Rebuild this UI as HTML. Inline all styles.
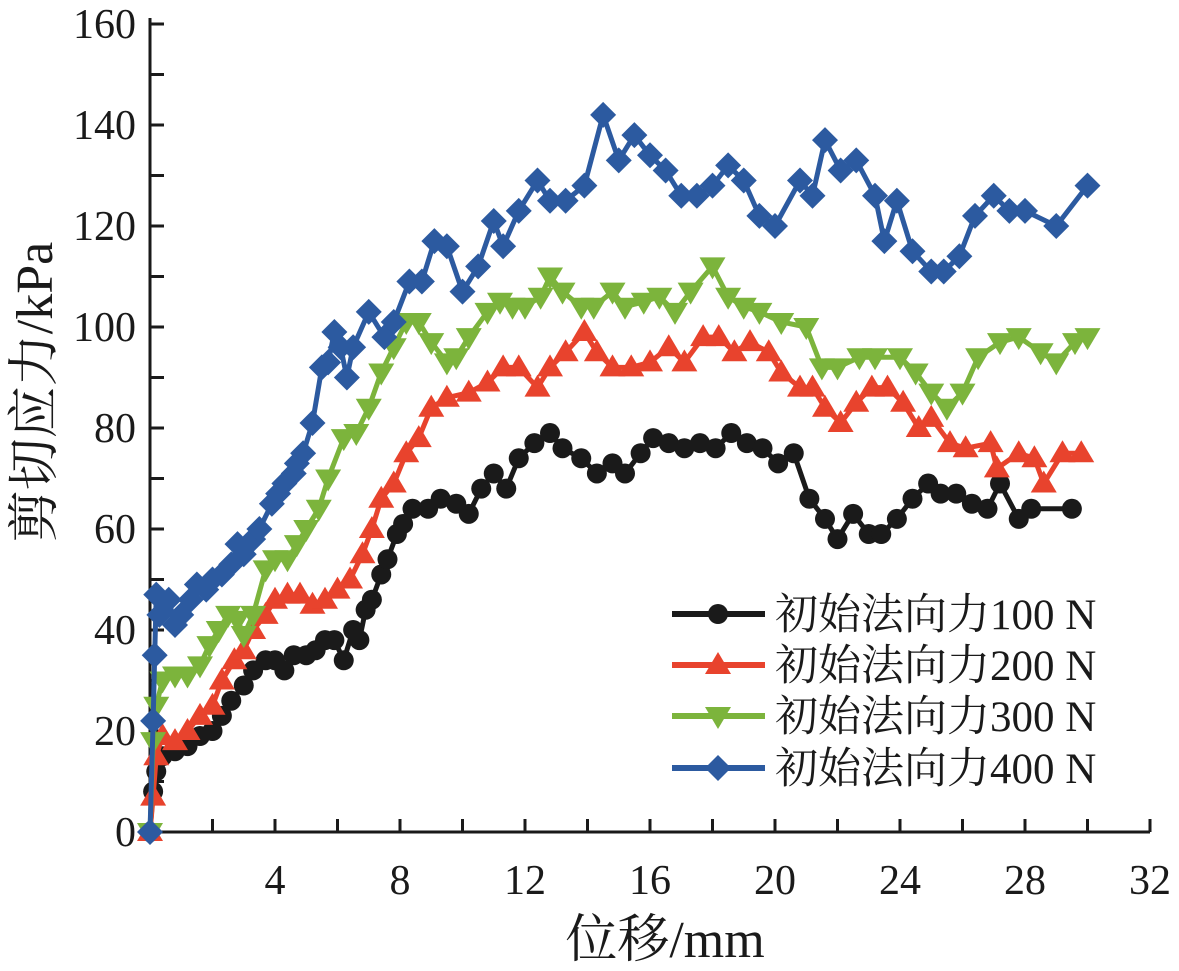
<!DOCTYPE html>
<html><head><meta charset="utf-8">
<style>
html,body{margin:0;padding:0;background:#fff;}
svg{display:block;}
text{font-family:"Liberation Serif","Noto Serif CJK SC",serif;fill:#1a1a1a;}
</style></head>
<body>
<svg id="chart" width="1179" height="971" viewBox="0 0 1179 971" xmlns="http://www.w3.org/2000/svg"></svg>
<script>
const xTicks=[4,8,12,16,20,24,28,32];
const yTicks=[0,20,40,60,80,100,120,140,160];
const seriesNames=["初始法向力100 N","初始法向力200 N","初始法向力300 N","初始法向力400 N"];
const xs100=[0,0.1,0.2,0.4,0.8,1.2,1.6,2.0,2.3,2.6,3.0,3.3,3.7,4.0,4.3,4.6,5.0,5.3,5.6,5.9,6.2,6.5,6.7,6.9,7.1,7.4,7.6,7.9,8.1,8.4,8.9,9.3,9.8,10.2,10.6,11.0,11.4,11.8,12.3,12.8,13.2,13.8,14.3,14.8,15.2,15.7,16.1,16.6,17.1,17.6,18.1,18.6,19.1,19.6,20.1,20.6,21.1,21.6,22.0,22.5,23.0,23.4,23.9,24.4,24.9,25.3,25.8,26.3,26.8,27.2,27.8,28.2,29.5];
const ys100=[0,8,12,15,16,17,19,20,23,26,29,32,34,34,32,35,35,36,38,38,34,40,38,44,46,51,54,59,61,64,64,66,65,63,68,71,68,74,77,79,76,74,71,73,71,75,78,77,76,77,76,79,77,76,73,75,66,62,58,63,59,59,62,66,69,67,67,65,64,69,62,64,64];
const xs200=[0,0.1,0.2,0.4,0.8,1.2,1.6,2.0,2.3,2.7,3.0,3.3,3.7,4.0,4.4,4.8,5.2,5.6,6.0,6.4,6.8,7.1,7.4,7.8,8.2,8.6,9.0,9.5,10.2,10.8,11.3,11.8,12.4,12.8,13.3,13.9,14.3,14.8,15.4,16.0,16.6,17.1,17.7,18.2,18.7,19.2,19.8,20.2,20.8,21.2,21.6,22.1,22.6,23.1,23.6,24.1,24.6,25.0,25.6,26.1,26.9,27.1,27.8,28.3,28.6,29.2,29.8];
const ys200=[0,7,15,19,18,20,23,25,30,34,36,40,43,46,47,47,45,46,48,50,55,60,66,69,75,78,84,86,87,89,92,92,88,92,95,99,95,92,92,93,96,93,98,98,95,97,95,91,88,88,84,81,85,88,88,85,80,82,77,76,77,72,75,74,69,75,75];
const xs300=[0,0.1,0.2,0.4,0.8,1.2,1.6,1.9,2.2,2.5,2.8,3.0,3.3,3.7,4.0,4.4,4.7,5.0,5.4,5.7,6.2,6.6,7.0,7.4,7.8,8.2,8.6,9.0,9.5,9.8,10.2,10.8,11.2,11.6,12.0,12.5,12.8,13.2,13.8,14.2,14.8,15.2,15.8,16.3,16.8,17.3,18.0,18.5,19.0,19.5,20.2,21.0,21.5,22.0,22.7,23.2,24.0,24.5,25.0,25.5,26.0,26.5,27.2,27.8,28.5,29.0,29.6,30.0];
const ys300=[0,18,25,30,31,31,33,37,40,43,42,39,43,52,54,54,57,60,64,70,78,79,84,91,96,101,101,97,93,94,98,103,105,104,104,106,110,107,104,104,107,104,105,106,103,107,112,106,104,103,101,100,92,92,94,94,94,91,87,84,87,94,97,98,95,93,97,98];
const xs400=[0,0.1,0.15,0.2,0.3,0.6,0.8,1.0,1.3,1.5,1.8,2.0,2.3,2.6,2.8,3.0,3.3,3.5,3.9,4.1,4.3,4.6,4.7,4.9,5.2,5.5,5.7,5.9,6.1,6.3,6.5,7.0,7.5,7.8,8.3,8.7,9.1,9.5,10.0,10.5,11.0,11.3,11.8,12.4,12.8,13.3,13.9,14.5,15.0,15.5,16.0,16.5,17.0,17.5,18.0,18.5,19.0,19.5,20.0,20.8,21.2,21.6,22.1,22.6,23.2,23.5,23.9,24.4,25.0,25.4,25.9,26.4,27.0,27.5,28.0,29.0,30.0];
const ys400=[0,22,35,47,43,46,41,43,46,49,48,50,51,53,57,55,58,60,65,67,69,71,73,75,81,92,93,99,96,90,96,103,98,101,109,109,117,116,107,112,121,116,123,129,125,125,128,142,133,138,134,131,126,126,128,132,129,122,120,129,126,137,131,133,126,117,125,115,111,111,114,122,126,123,123,120,128];

const X0=150,X1=1150,Y0=832,Y1=24;
const sx=v=>X0+(v/32)*(X1-X0);
const sy=v=>Y0-(v/160)*(Y0-Y1);
const NS="http://www.w3.org/2000/svg";
const svg=document.getElementById('chart');
function mk(tag,attrs,parent){const e=document.createElementNS(NS,tag);for(const k in attrs)e.setAttribute(k,attrs[k]);(parent||svg).appendChild(e);return e;}

const ax=mk('g',{});


const yl=mk('line',{x1:X0,y1:18,x2:X0,y2:Y0,stroke:'#1a1a1a','stroke-width':3},ax);


const xl=mk('line',{x1:X0,y1:Y0,x2:X1,y2:Y0,stroke:'#1a1a1a','stroke-width':3},ax);


for(let v=10;v<=160;v+=10){const t=mk('line',{x1:X0,y1:sy(v),x2:X0+14,y2:sy(v),stroke:'#1a1a1a','stroke-width':3},ax);

}
for(let v=2;v<=32;v+=2){const t=mk('line',{x1:sx(v),y1:Y0,x2:sx(v),y2:Y0-13,stroke:'#1a1a1a','stroke-width':3},ax);

}
yTicks.forEach(v=>{const t=mk('text',{x:X0-14,y:sy(v)+14,'text-anchor':'end','font-size':42},ax);t.textContent=v;

});
xTicks.forEach(v=>{const t=mk('text',{x:sx(v),y:894,'text-anchor':'middle','font-size':42},ax);t.textContent=v;

});
const xt=mk('text',{x:665,y:957,'text-anchor':'middle','font-size':52},ax);xt.textContent='位移/mm';


const yt=mk('text',{x:0,y:0,'text-anchor':'middle','font-size':52,transform:'translate(52,392) rotate(-90)'},ax);yt.textContent='剪切应力/kPa';



const colors=['#1a1a1a','#e8432d','#7cb43c','#2c5aa0'];
const allX=[xs100,xs200,xs300,xs400],allY=[ys100,ys200,ys300,ys400];
function marker(i,x,y,g){
  let m;
  if(i===0) m=mk('circle',{cx:x,cy:y,r:10,fill:colors[0]},g);
  else if(i===1) m=mk('polygon',{points:`${x},${y-13} ${x-13},${y+9} ${x+13},${y+9}`,fill:colors[1]},g);
  else if(i===2) m=mk('polygon',{points:`${x},${y+13} ${x-13},${y-9} ${x+13},${y-9}`,fill:colors[2]},g);
  else m=mk('polygon',{points:`${x},${y-13} ${x+13},${y} ${x},${y+13} ${x-13},${y}`,fill:colors[3]},g);
  return m;
}
for(let i=0;i<4;i++){
  const g=mk('g',{});
  
  
  const pts=allX[i].map((x,j)=>sx(x)+','+sy(allY[i][j])).join(' ');
  const pl=mk('polyline',{points:pts,fill:'none',stroke:colors[i],'stroke-width':5,'stroke-linejoin':'round'},g);
  
  
  allX[i].forEach((x,j)=>{const m=marker(i,sx(x),sy(allY[i][j]),g);
    
    });
}
const lg=mk('g',{});


const ly=[614,665,716,768];
for(let i=0;i<4;i++){
  const e=mk('g',{},lg);
  
  
  mk('line',{x1:672,y1:ly[i],x2:765,y2:ly[i],stroke:colors[i],'stroke-width':6},e);
  marker(i,718,ly[i],e);
  const t=mk('text',{x:775,y:ly[i]+15,'font-size':43},e);t.textContent=seriesNames[i];
}
</script>
</body></html>
